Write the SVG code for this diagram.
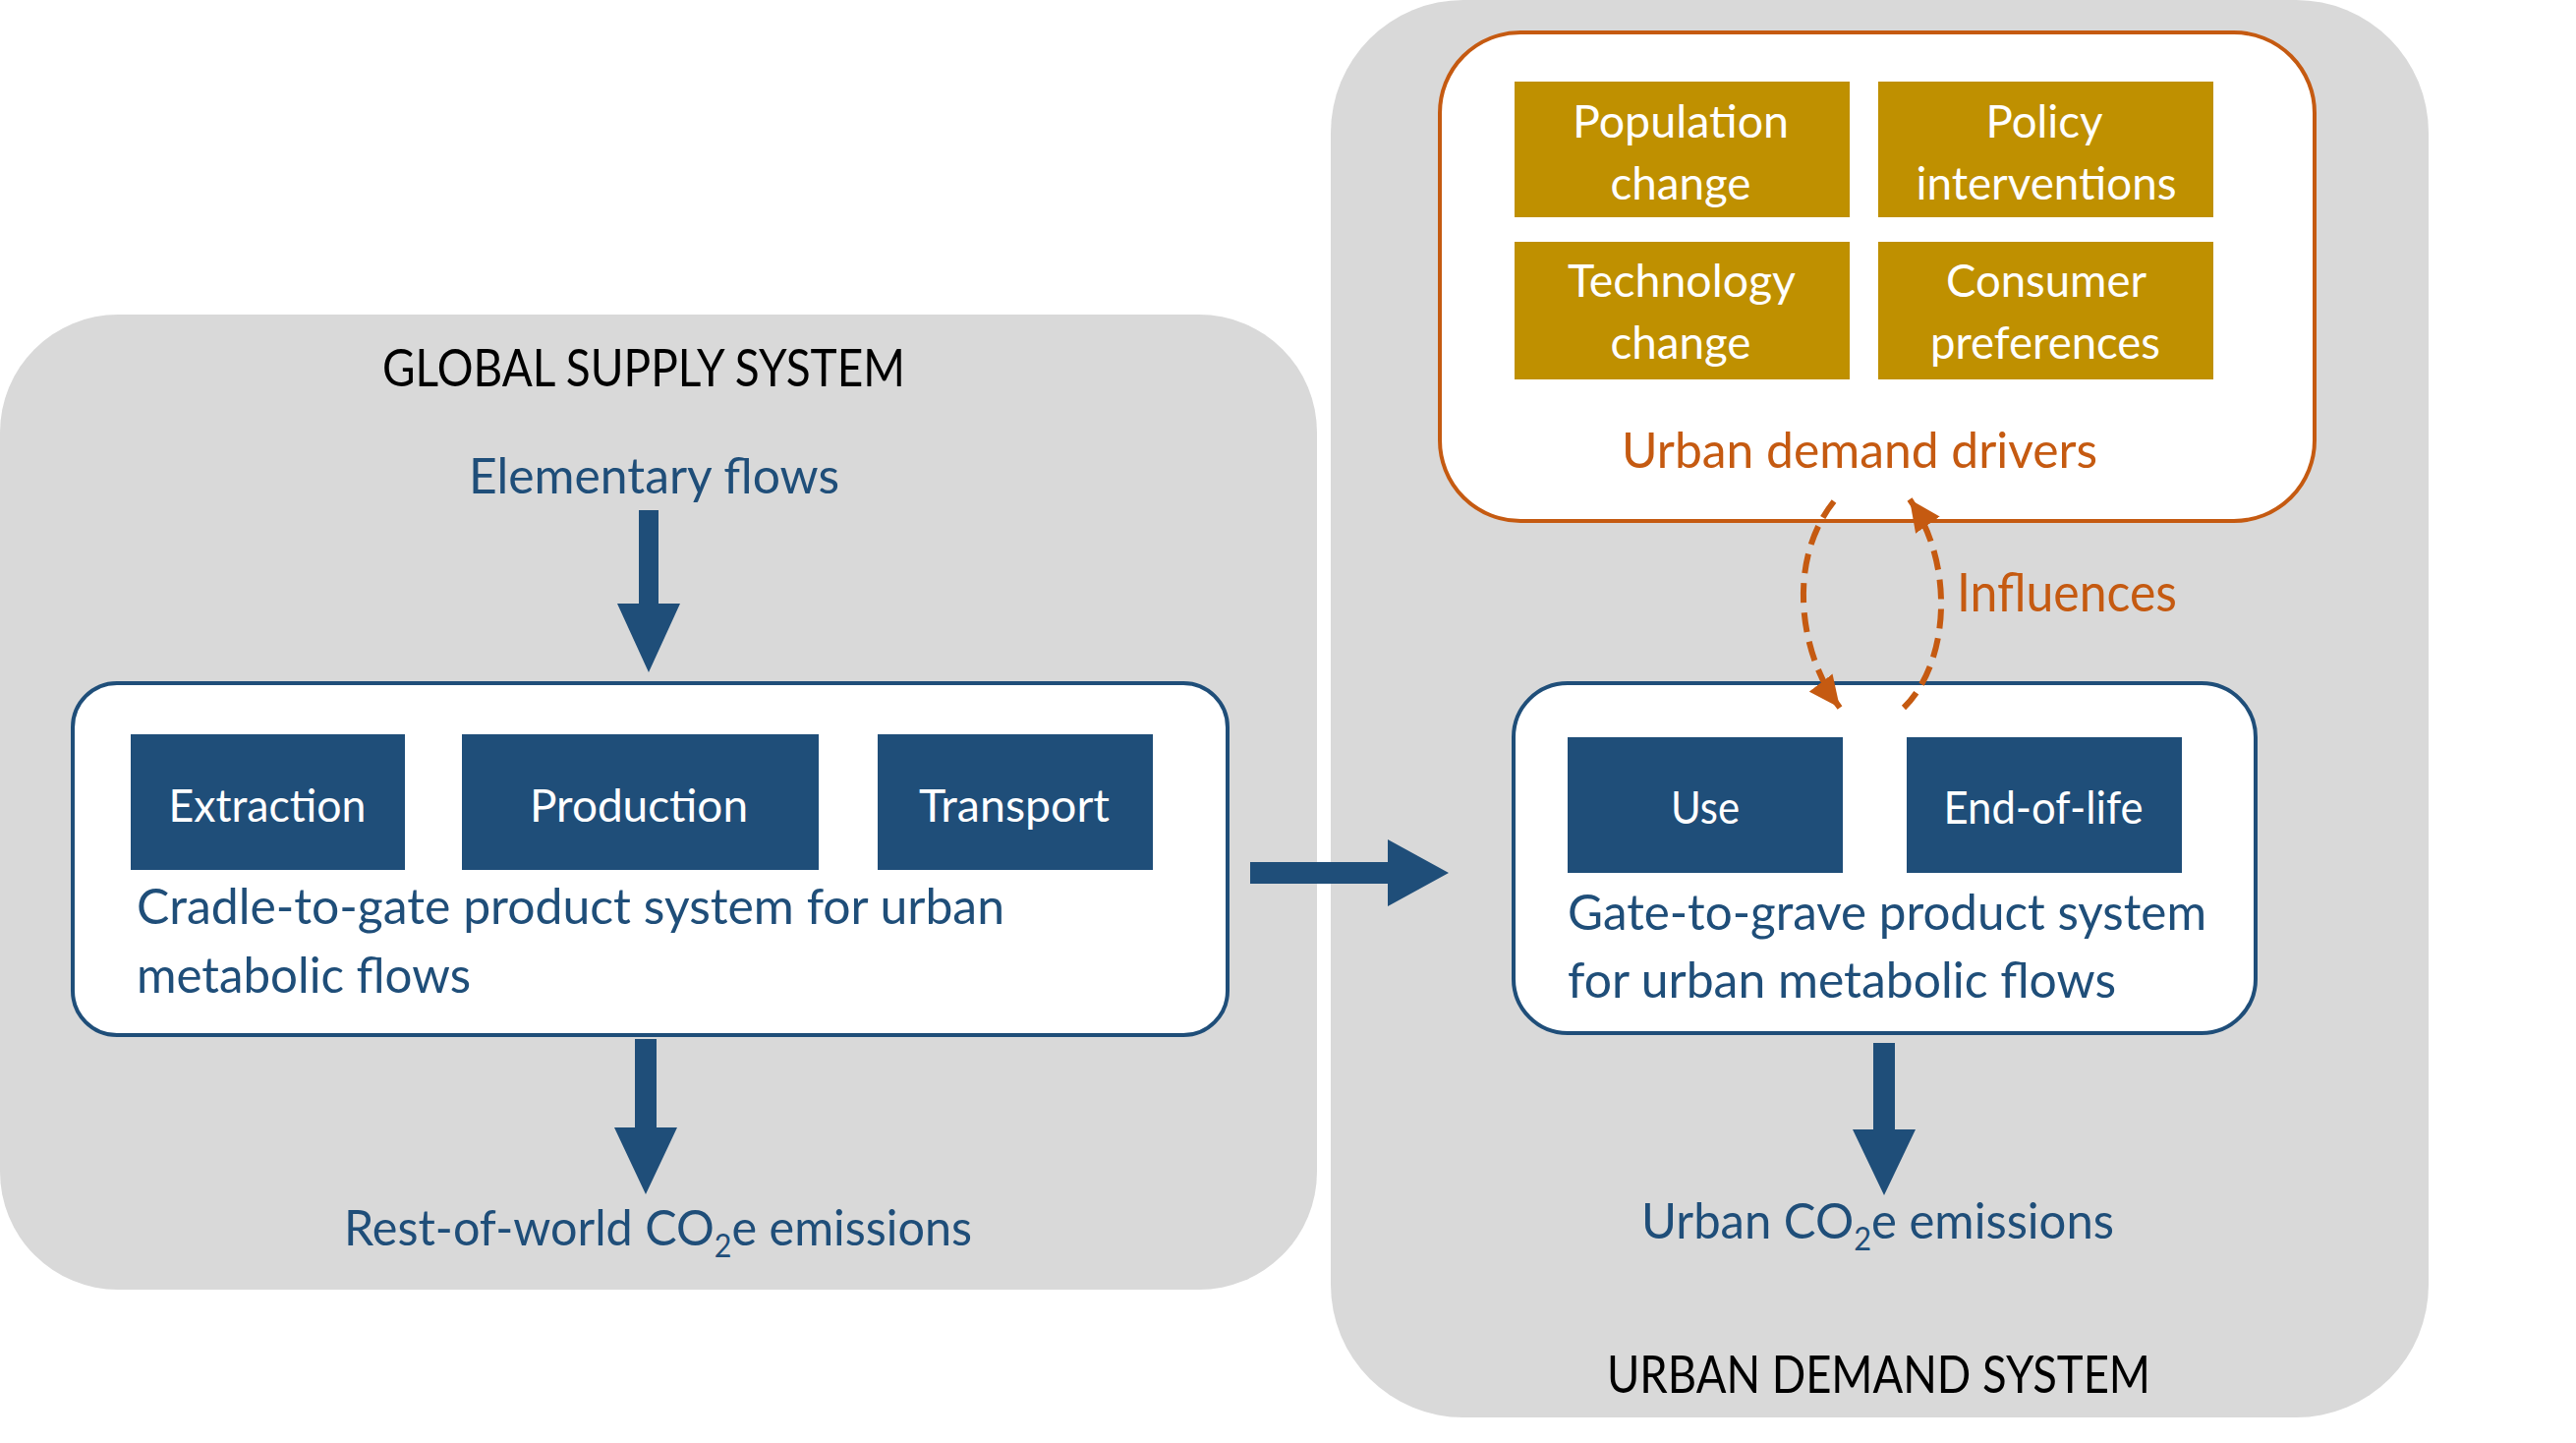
<svg xmlns="http://www.w3.org/2000/svg" width="2621" height="1468" viewBox="0 0 2621 1468">
<defs>
<style>
.panel{fill:#D9D9D9}
.inner{fill:#fff;stroke:#1F4E79;stroke-width:4}
.drivers{fill:#fff;stroke:#C55A11;stroke-width:4}
.box{fill:#1F4E79}
.gold{fill:#BF9000}
.t{font-family:Lato,'Liberation Sans',sans-serif}
.blue{fill:#1F4E79}
.white{fill:#fff}
.orange{fill:#C55A11}
.black{fill:#000}
.arrow{fill:#1F4E79}
.dash{fill:none;stroke:#C55A11;stroke-width:6;stroke-dasharray:20 10}
</style>
<marker id="oh" viewBox="0 0 32 30" refX="32" refY="15" markerWidth="32" markerHeight="30" markerUnits="userSpaceOnUse" orient="auto">
<path d="M0,0 L32,15 L0,30 z" fill="#C55A11"/>
</marker>
</defs>
<rect width="2621" height="1468" fill="#fff"/>

<g id="global-supply-system">
<rect class="panel" x="0" y="320" width="1340" height="992" rx="120" ry="120"/>
<text class="t black" x="389" y="393" font-size="52" textLength="532" lengthAdjust="spacingAndGlyphs">GLOBAL SUPPLY SYSTEM</text>
</g>

<g id="urban-demand-system">
<rect class="panel" x="1354" y="0" width="1117" height="1442" rx="135" ry="135"/>
<text class="t black" x="1635" y="1417" font-size="52" textLength="553" lengthAdjust="spacingAndGlyphs">URBAN DEMAND SYSTEM</text>
</g>

<g id="elementary-flows">
<text class="t blue" x="477" y="502" font-size="50" textLength="377" lengthAdjust="spacingAndGlyphs">Elementary flows</text>
</g>

<g id="cradle-to-gate">
<rect class="inner" x="74" y="695" width="1175" height="358" rx="45" ry="45"/>
<text class="t blue" x="139" y="940" font-size="51" textLength="883" lengthAdjust="spacingAndGlyphs">Cradle-to-gate product system for urban</text>
<text class="t blue" x="139" y="1010" font-size="51" textLength="340" lengthAdjust="spacingAndGlyphs">metabolic flows</text>
</g>

<g id="extraction">
<rect class="box" x="133" y="747" width="279" height="138"/>
<text class="t white" x="272" y="836" font-size="46" text-anchor="middle" textLength="201" lengthAdjust="spacingAndGlyphs">Extraction</text>
</g>
<g id="production">
<rect class="box" x="470" y="747" width="363" height="138"/>
<text class="t white" x="650" y="836" font-size="46" text-anchor="middle" textLength="222" lengthAdjust="spacingAndGlyphs">Production</text>
</g>
<g id="transport">
<rect class="box" x="893" y="747" width="280" height="138"/>
<text class="t white" x="1032" y="836" font-size="46" text-anchor="middle" textLength="194" lengthAdjust="spacingAndGlyphs">Transport</text>
</g>

<g id="rest-of-world-emissions">
<text class="t blue" x="350" y="1267" font-size="51" textLength="639" lengthAdjust="spacingAndGlyphs">Rest-of-world CO<tspan dy="12" font-size="32">2</tspan><tspan dy="-12">e emissions</tspan></text>
</g>

<g id="urban-demand-drivers">
<rect class="drivers" x="1465" y="33" width="890" height="497" rx="82" ry="82"/>
<text class="t orange" x="1650" y="476" font-size="50" textLength="484" lengthAdjust="spacingAndGlyphs">Urban demand drivers</text>
</g>

<g id="population-change">
<rect class="gold" x="1541" y="83" width="341" height="138"/>
<text class="t white" x="1710" y="140" font-size="46" text-anchor="middle" textLength="220" lengthAdjust="spacingAndGlyphs">Population</text>
<text class="t white" x="1710" y="203" font-size="46" text-anchor="middle" textLength="143" lengthAdjust="spacingAndGlyphs">change</text>
</g>
<g id="policy-interventions">
<rect class="gold" x="1911" y="83" width="341" height="138"/>
<text class="t white" x="2080" y="140" font-size="46" text-anchor="middle" textLength="119" lengthAdjust="spacingAndGlyphs">Policy</text>
<text class="t white" x="2082" y="203" font-size="46" text-anchor="middle" textLength="265" lengthAdjust="spacingAndGlyphs">interventions</text>
</g>
<g id="technology-change">
<rect class="gold" x="1541" y="246" width="341" height="140"/>
<text class="t white" x="1711" y="302" font-size="46" text-anchor="middle" textLength="232" lengthAdjust="spacingAndGlyphs">Technology</text>
<text class="t white" x="1710" y="365" font-size="46" text-anchor="middle" textLength="143" lengthAdjust="spacingAndGlyphs">change</text>
</g>
<g id="consumer-preferences">
<rect class="gold" x="1911" y="246" width="341" height="140"/>
<text class="t white" x="2082" y="302" font-size="46" text-anchor="middle" textLength="204" lengthAdjust="spacingAndGlyphs">Consumer</text>
<text class="t white" x="2081" y="365" font-size="46" text-anchor="middle" textLength="234" lengthAdjust="spacingAndGlyphs">preferences</text>
</g>

<g id="gate-to-grave">
<rect class="inner" x="1540" y="695" width="755" height="356" rx="55" ry="55"/>
<text class="t blue" x="1595" y="946" font-size="51" textLength="650" lengthAdjust="spacingAndGlyphs">Gate-to-grave product system</text>
<text class="t blue" x="1595" y="1015" font-size="51" textLength="558" lengthAdjust="spacingAndGlyphs">for urban metabolic flows</text>
</g>
<g id="use">
<rect class="box" x="1595" y="750" width="280" height="138"/>
<text class="t white" x="1735" y="838" font-size="46" text-anchor="middle" textLength="70" lengthAdjust="spacingAndGlyphs">Use</text>
</g>
<g id="end-of-life">
<rect class="box" x="1940" y="750" width="280" height="138"/>
<text class="t white" x="2079" y="838" font-size="46" text-anchor="middle" textLength="203" lengthAdjust="spacingAndGlyphs">End-of-life</text>
</g>

<g id="urban-emissions">
<text class="t blue" x="1670" y="1260" font-size="51" textLength="481" lengthAdjust="spacingAndGlyphs">Urban CO<tspan dy="12" font-size="32">2</tspan><tspan dy="-12">e emissions</tspan></text>
</g>

<g id="connectors">
<polygon class="arrow" points="650,519 670,519 670,614 692,614 660,684 628,614 650,614"/>
<polygon class="arrow" points="646,1057 668,1057 668,1147 689,1147 657,1215 625,1147 646,1147"/>
<polygon class="arrow" points="1272,877 1412,877 1412,854 1474,888 1412,922 1412,899 1272,899"/>
<polygon class="arrow" points="1906,1061 1928,1061 1928,1149 1949,1149 1917,1216 1885,1149 1906,1149"/>
<path class="dash" d="M1866,510 C1818,570 1830,665 1872,720" marker-end="url(#oh)"/>
<path class="dash" d="M1937,720 C1983,675 1990,575 1943,508" marker-end="url(#oh)"/>
<text class="t orange" x="1991" y="622" font-size="54" textLength="224" lengthAdjust="spacingAndGlyphs">Influences</text>
</g>
</svg>
